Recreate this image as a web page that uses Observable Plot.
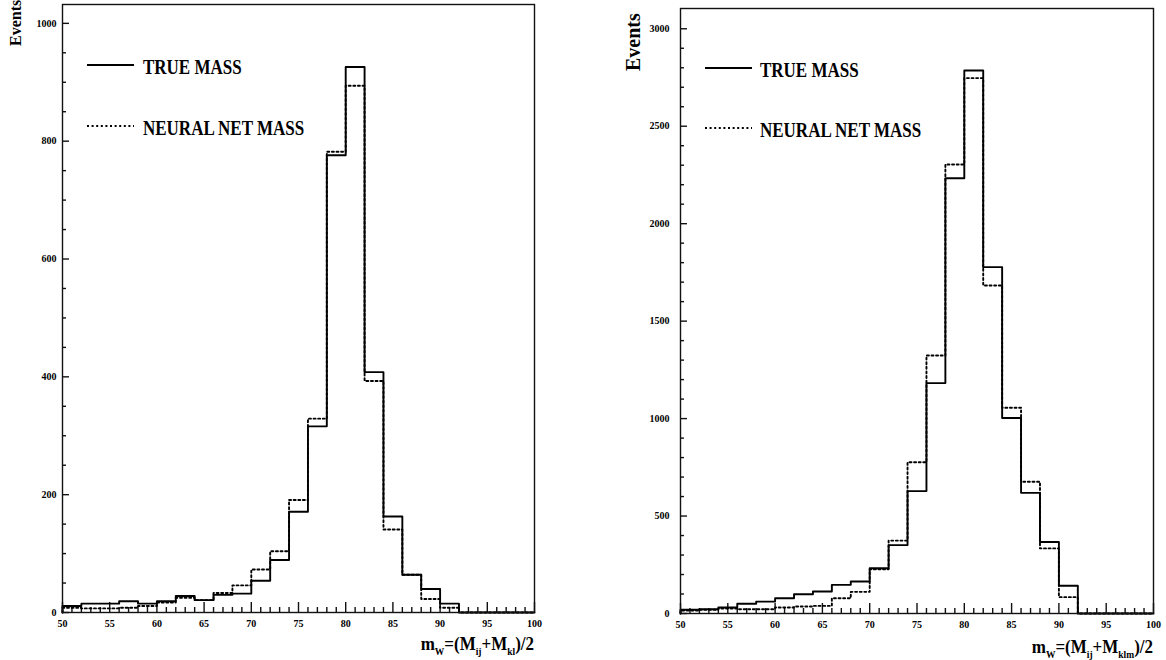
<!DOCTYPE html>
<html><head><meta charset="utf-8">
<script src="https://cdn.jsdelivr.net/npm/d3@7"></script>
<script src="https://cdn.jsdelivr.net/npm/@observablehq/plot@0.6"></script>
<style>
body{margin:0;background:#fff;}
#wrap{position:relative;width:1166px;height:660px;overflow:hidden;background:#fff;}
#wrap svg{position:absolute;top:0;}
</style></head><body><div id="wrap"></div>
<script>
// bin lower edges (bin width 2 GeV)
const binStart = [50,52,54,56,58,60,62,64,66,68,70,72,74,76,78,80,82,84,86,88,90,92,94,96,98];
const binEnd = 100;

// Left panel: m_W = (M_ij + M_kl)/2
const leftTrue = [11,15,15,19,15,19,28,21,30,32,54,89,171,316,776,926,408,163,64,40,15,0,0,0,0];
const leftNN   = [8,7,7,8,11,17,25,21,33,46,73,104,191,329,782,894,393,141,64,23,8,0,0,0,0];

// Right panel: m_W = (M_ij + M_klm)/2
const rightTrue = [19,22,31,50,61,78,99,113,147,164,232,351,628,1182,2233,2786,1777,1003,619,367,142,0,0,0,0];
const rightNN   = [15,19,26,22,22,31,36,39,78,111,227,374,776,1324,2304,2747,1683,1056,676,334,84,0,0,0,0];

const xMajorTicks = [50,55,60,65,70,75,80,85,90,95,100];
const xMinorTicks = d3.range(51,100).filter(v => v % 5 !== 0);
const leftYLabels = [0,200,400,600,800,1000];
const leftYMinor = d3.range(50,1001,50).filter(v => v % 200 !== 0);
const rightYLabels = [0,500,1000,1500,2000,2500,3000];
const rightYMinor = d3.range(100,3001,100).filter(v => v % 500 !== 0);

const legendLabels = ["TRUE MASS","NEURAL NET MASS"];

function steps(vals){
  const pts = [{x: binStart[0], y: 0}];
  binStart.forEach((b,i) => pts.push({x: b, y: vals[i]}));
  pts.push({x: binEnd, y: vals[vals.length-1]});
  pts.push({x: binEnd, y: 0});
  return pts;
}

const FONT = "'Liberation Serif', 'Times New Roman', serif";
const W = 583, H = 660;

function panel(cfg){
  // data units per pixel, for tick lengths
  const uy = cfg.ymax / (H - cfg.mt - cfg.mb);
  const ux = 50 / (W - cfg.ml - cfg.mr);
  const tk = {stroke: "#111", strokeWidth: 1.4};
  const svg = Plot.plot({
    width: W, height: H,
    marginLeft: cfg.ml, marginRight: cfg.mr, marginTop: cfg.mt, marginBottom: cfg.mb,
    x: {domain: [50,100], label: null},
    y: {domain: [0, cfg.ymax], label: null},
    style: {fontFamily: FONT, fontWeight: "bold", fontSize: "10px", background: "transparent", overflow: "visible"},
    marks: [
      Plot.axisX(xMajorTicks, {tickSize: 0, tickPadding: 7, label: null, tickFormat: d => String(d)}),
      Plot.axisY(cfg.yLabels, {tickSize: 0, tickPadding: cfg.ypad, label: null, tickFormat: d => String(d)}),
      Plot.ruleX(xMajorTicks, {x: d => d, y1: 0, y2: 10 * uy, ...tk}),
      Plot.ruleX(xMinorTicks, {x: d => d, y1: 0, y2: 5 * uy, ...tk}),
      Plot.ruleY(cfg.yLabels, {y: d => d, x1: 50, x2: 50 + 7 * ux, ...tk}),
      Plot.ruleY(cfg.yMinor, {y: d => d, x1: 50, x2: 50 + 4 * ux, ...tk}),
      Plot.line(steps(cfg.trueVals), {x: "x", y: "y", curve: "step-after", stroke: "#000", strokeWidth: 1.9}),
      Plot.line(steps(cfg.nnVals), {x: "x", y: "y", curve: "step-after", stroke: "#000", strokeWidth: 1.9, strokeDasharray: "2,2.6"}),
      Plot.frame({stroke: "#111", strokeWidth: 1.4})
    ]
  });
  const s = d3.select(svg);
  // legend
  const L = cfg.legend;
  s.append("line").attr("x1", L.x1).attr("x2", L.x2).attr("y1", L.y1).attr("y2", L.y1)
    .attr("stroke", "#000").attr("stroke-width", 1.9);
  s.append("line").attr("x1", L.x1).attr("x2", L.x2).attr("y1", L.y2).attr("y2", L.y2)
    .attr("stroke", "#000").attr("stroke-width", 1.9).attr("stroke-dasharray", "2,2.6");
  [L.y1, L.y2].forEach((yy, i) => {
    s.append("text").attr("transform", `translate(${L.tx},${yy + 2}) scale(1,1.22)`)
      .attr("dy", "0.32em").attr("text-anchor", "start")
      .attr("font-family", FONT).attr("font-weight", "bold").attr("font-size", 17)
      .attr("fill", "#000").text(legendLabels[i]);
  });
  // y label "Events"
  s.append("text").attr("transform", `translate(${cfg.ev.x},${cfg.ev.y}) rotate(-90)`)
    .attr("text-anchor", "start").attr("dy", "0.35em")
    .attr("font-family", FONT).attr("font-weight", "bold").attr("font-size", cfg.ev.size)
    .attr("fill", "#000").text("Events");
  // x label
  const t = s.append("text").attr("transform", `translate(${W - cfg.mr},${cfg.xl.y}) scale(1,1.15)`)
    .attr("text-anchor", "end")
    .attr("font-family", FONT).attr("font-weight", "bold").attr("font-size", 17).attr("fill", "#000");
  t.append("tspan").text("m");
  t.append("tspan").attr("font-size", 9.5).attr("dy", 4).text("W");
  t.append("tspan").attr("dy", -4).text("=(M");
  t.append("tspan").attr("font-size", 9.5).attr("dy", 4).text("ij");
  t.append("tspan").attr("dy", -4).text("+M");
  t.append("tspan").attr("font-size", 9.5).attr("dy", 4).text(cfg.xl.sub);
  t.append("tspan").attr("dy", -4).text(")/2");
  svg.style.left = cfg.left + "px";
  return svg;
}

const wrap = document.getElementById("wrap");
wrap.appendChild(panel({
  left: 0, ml: 62, mr: 49, mt: 4, mb: 48, ymax: 1032, ypad: 6,
  yLabels: leftYLabels, yMinor: leftYMinor,
  trueVals: leftTrue, nnVals: leftNN,
  legend: {x1: 87, x2: 134, y1: 65, y2: 126, tx: 143},
  ev: {x: 15, y: 46, size: 16},
  xl: {y: 650, sub: "kl"}
}));
wrap.appendChild(panel({
  left: 583, ml: 97, mr: 13, mt: 8, mb: 47, ymax: 3104, ypad: 11,
  yLabels: rightYLabels, yMinor: rightYMinor,
  trueVals: rightTrue, nnVals: rightNN,
  legend: {x1: 122, x2: 169, y1: 68, y2: 128, tx: 177},
  ev: {x: 50, y: 71, size: 20},
  xl: {y: 653, sub: "klm"}
}));
</script></body></html>
